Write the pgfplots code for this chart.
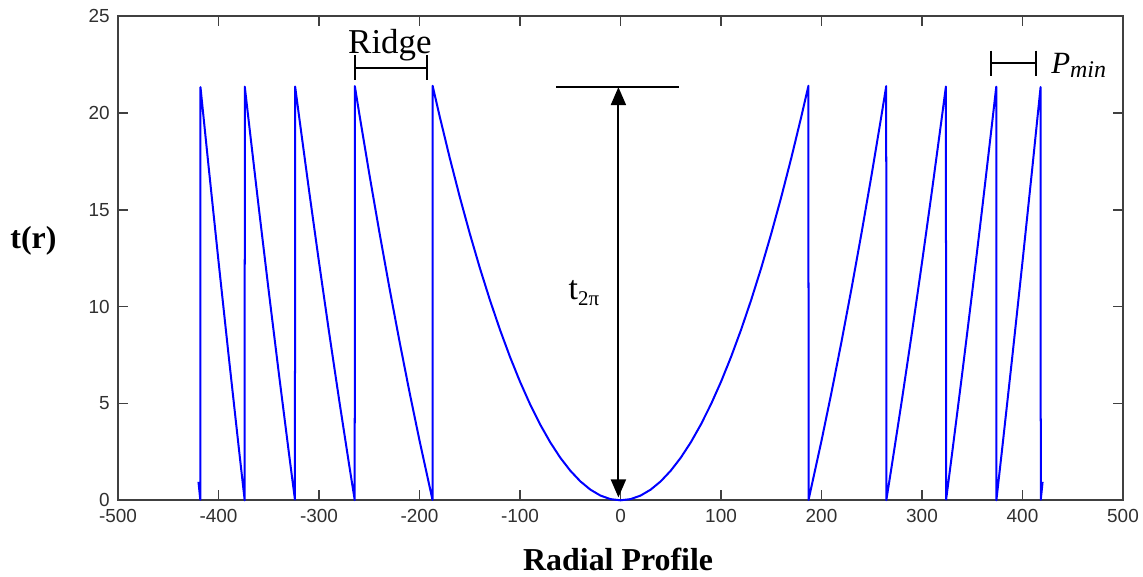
\documentclass[border=0pt]{standalone}
\usepackage{fontspec}
\setmainfont{Liberation Serif}
\setsansfont{Liberation Sans}
\usepackage{pgfplots}
\pgfplotsset{compat=1.18}
\usetikzlibrary{arrows.meta}
\definecolor{axgray}{HTML}{404040}
\definecolor{lblgray}{HTML}{303030}

\begin{document}
\begin{tikzpicture}
\useasboundingbox (-59bp,-38bp) rectangle (512.15bp,250bp);
\begin{axis}[
  at={(0,0)}, anchor=south west,
  width=502.15bp, height=242bp, scale only axis,
  xmin=-500, xmax=500, ymin=0, ymax=25,
  xtick={-500,-400,...,500}, ytick={0,5,...,25},
  tick align=inside, major tick length=5bp,
  axis line style={axgray, line width=1bp},
  major tick style={axgray, line width=0.8bp},
  /pgf/number format/assume math mode=true,
  ticklabel style={font=\sffamily\fontsize{9.5}{10}\selectfont, text=lblgray},
  xticklabel style={anchor=north, inner sep=0pt, yshift=-4.5bp},
  yticklabel style={anchor=east, inner sep=0pt, xshift=-4bp},
  clip=false,
]
\addplot[color={rgb,255:red,0;green,0;blue,255}, line width=1bp, line join=round, no marks] table {
x y
-420 0.952
-418.2 0.03
-418 21.33
-410 17.272
-400 12.315
-390 7.481
-380 2.768
-374 0.0
-373.9 21.35
-370 19.579
-360 15.111
-350 10.766
-340 6.544
-330 2.444
-324 0.04
-323.8 21.36
-320 19.866
-310 16.010
-300 12.277
-290 8.667
-280 5.179
-270 1.813
-264.5 0.01
-264.4 21.38
-260 19.969
-250 16.848
-240 13.850
-230 10.973
-220 8.219
-210 5.588
-200 3.079
-187.1 0.02
-187 21.4
-180 19.828
-170 17.686
-160 15.666
-150 13.769
-140 11.994
-130 10.342
-120 8.812
-110 7.405
-100 6.120
-90 4.957
-80 3.917
-70 2.999
-60 2.203
-50 1.530
-40 0.979
-30 0.551
-20 0.245
-10 0.061
0 0
10 0.061
20 0.245
30 0.551
40 0.979
50 1.530
60 2.203
70 2.999
80 3.917
90 4.957
100 6.120
110 7.405
120 8.812
130 10.342
140 11.994
150 13.769
160 15.666
170 17.686
180 19.828
187 21.4
187.1 0.02
200 3.079
210 5.588
220 8.219
230 10.973
240 13.850
250 16.848
260 19.969
264.4 21.38
264.5 0.01
270 1.813
280 5.179
290 8.667
300 12.277
310 16.010
320 19.866
323.8 21.36
324 0.04
330 2.444
340 6.544
350 10.766
360 15.111
370 19.579
373.9 21.35
374 0.0
380 2.768
390 7.481
400 12.315
410 17.272
418 21.33
418.2 0.03
420 0.952
};

% Ridge bracket
\draw[black, line width=1bp] (axis cs:-263.8,22.99) -- (axis cs:-263.8,21.69);
\draw[black, line width=1bp] (axis cs:-192.3,22.99) -- (axis cs:-192.3,21.69);
\draw[black, line width=1bp] (axis cs:-263.8,22.33) -- (axis cs:-192.3,22.33);
\node[anchor=base, inner sep=0pt, font=\fontsize{17.5}{18}\selectfont] at (axis cs:-229.5,23.07) {Ridge};

% P_min bracket
\draw[black, line width=1bp] (axis cs:368.5,23.21) -- (axis cs:368.5,21.90);
\draw[black, line width=1bp] (axis cs:413.4,23.21) -- (axis cs:413.4,21.90);
\draw[black, line width=1bp] (axis cs:368.5,22.56) -- (axis cs:413.4,22.56);
\node[anchor=base west, inner sep=0pt, font=\fontsize{15.5}{16}\selectfont\itshape] at (axis cs:428.3,22.04) {P\raisebox{-2bp}{\fontsize{12}{12}\selectfont min}};

% t_2pi arrow
\draw[black, line width=1bp] (axis cs:-64.2,21.33) -- (axis cs:58,21.33);
\draw[black, line width=1bp, {Triangle[length=9bp,width=7.5bp]}-{Triangle[length=9bp,width=7.5bp]}] (axis cs:-2.1,0.15) -- (axis cs:-2.1,21.33);
\node[anchor=base west, inner sep=0pt, font=\fontsize{17}{18}\selectfont] at (axis cs:-52,10.38) {t\raisebox{-3bp}{\fontsize{10.5}{11}\selectfont 2π}};

% axis labels
\node[anchor=base, inner sep=0pt, font=\fontsize{16}{17}\selectfont\bfseries] at (axis cs:-2.4,0) [yshift=-35bp] {Radial Profile};
\node[anchor=base west, inner sep=0pt, font=\fontsize{16}{17}\selectfont\bfseries] at (axis cs:-500,13.02) [xshift=-54bp] {t(r)};
\end{axis}
\end{tikzpicture}
\end{document}
